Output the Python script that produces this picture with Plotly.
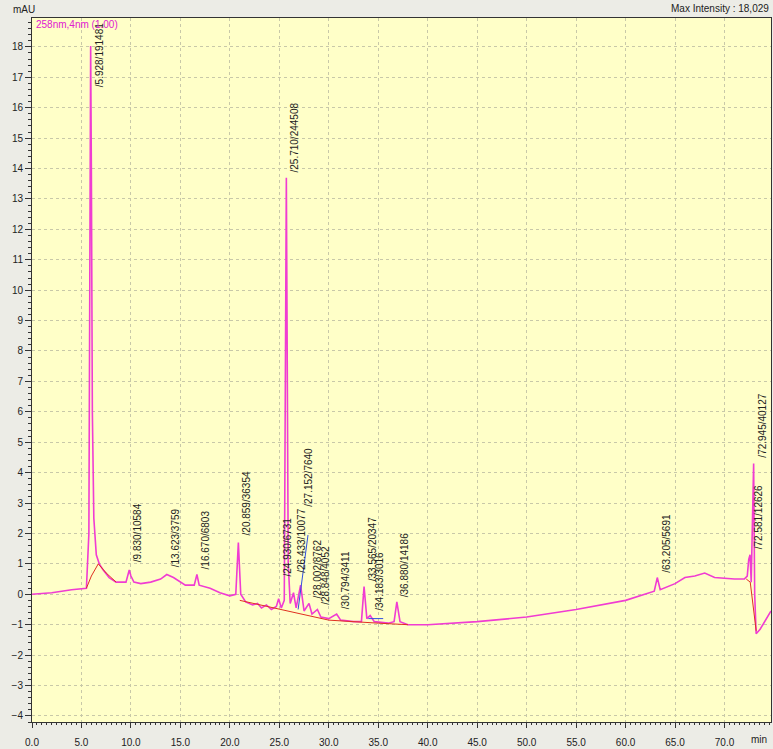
import plotly.graph_objects as go

# ---- chromatogram ----
time_min = [0.0, 2.0, 4.0, 5.5, 5.75, 5.85, 5.928, 6.0, 6.1, 6.25, 6.5, 6.8, 7.2, 7.8, 8.5,
            9.5, 9.7, 9.83, 10.0, 10.3, 11.0, 12.0, 13.0, 13.623, 14.3, 15.5, 16.4, 16.67, 16.9,
            18.0, 19.0, 20.0, 20.6, 20.859, 21.1, 21.6, 22.3, 22.8, 23.2, 23.7, 24.2, 24.7,
            24.93, 25.2, 25.5, 25.71, 25.9, 26.1, 26.433, 26.7, 27.152, 27.5, 28.002, 28.3,
            28.848, 29.2, 30.0, 30.794, 31.2, 32.5, 33.3, 33.565, 33.85, 34.183, 34.6, 36.0,
            36.6, 36.88, 37.2, 38.0, 40.0, 45.0, 50.0, 55.0, 60.0, 62.9, 63.205, 63.5, 65.0,
            66.0, 67.0, 68.0, 69.0, 71.0, 72.0, 72.3, 72.45, 72.581, 72.7, 72.945, 73.05,
            73.2, 73.6, 74.2, 74.7]
absorb_mau = [0.0, 0.05, 0.15, 0.2, 2.0, 12.0, 18.03, 14.0, 6.0, 2.5, 1.3, 1.0, 0.8, 0.55, 0.4,
              0.4, 0.6, 0.8, 0.6, 0.4, 0.35, 0.4, 0.5, 0.65, 0.55, 0.3, 0.3, 0.65, 0.3,
              0.2, 0.05, -0.05, 0.0, 1.7, 0.0, -0.25, -0.35, -0.3, -0.45, -0.35, -0.5, -0.4,
              -0.15, -0.45, -0.2, 13.7, 1.0, -0.3, 0.05, -0.45, 0.3, -0.55, -0.3, -0.65,
              -0.5, -0.75, -0.8, -0.65, -0.85, -0.9, -0.9, 0.25, -0.8, -0.7, -0.9, -0.95,
              -0.9, -0.25, -0.9, -1.0, -1.0, -0.9, -0.75, -0.5, -0.2, 0.1, 0.55, 0.15, 0.35,
              0.55, 0.6, 0.7, 0.55, 0.5, 0.5, 0.6, 1.15, 1.3, 0.4, 4.3, 0.0,
              -1.3, -1.15, -0.8, -0.55]

# drawn baselines (red) and marker segments (blue)
base1_t = [5.5, 6.0, 6.7, 7.5, 8.5]
base1_y = [0.2, 0.6, 1.0, 0.7, 0.4]
base2_t = [21.0, 25.0, 27.0, 30.0, 35.0, 38.0]
base2_y = [-0.2, -0.5, -0.65, -0.85, -0.95, -1.0]
base3_t = [72.2, 72.6, 73.2]
base3_y = [0.5, 0.4, -1.2]
blue1_t = [26.9, 27.9]
blue1_y = [-0.5, 1.95]
blue2_t = [34.0, 35.5]
blue2_y = [-0.8, -0.8]

# ---- peak table ----
peak_rt = [5.928, 9.830, 13.623, 16.670, 20.859, 24.930, 25.710, 26.433, 27.152, 28.002,
           28.848, 30.794, 33.565, 34.183, 36.880, 63.205, 72.581, 72.945]
peak_area = [191481, 10584, 3759, 6803, 36354, 6731, 244508, 10077, 7640, 8762,
             4052, 3411, 20347, 3016, 14186, 5691, 12626, 40127]
peak_height = [18.03, 0.8, 0.65, 0.65, 1.7, -0.15, 13.7, 0.05, 0.3, -0.3,
               -0.5, -0.65, 0.25, -0.7, -0.25, 0.55, 1.3, 4.3]

x_ticks = [0, 5, 10, 15, 20, 25, 30, 35, 40, 45, 50, 55, 60, 65, 70]
y_ticks = [-4, -3, -2, -1, 0, 1, 2, 3, 4, 5, 6, 7, 8, 9, 10, 11, 12, 13, 14, 15, 16, 17, 18]

fig = go.Figure()
fig.add_trace(go.Scatter(x=time_min, y=absorb_mau, mode="lines",
                         line=dict(color="#F03CD2", width=1.6), hoverinfo="skip"))
for bt, by in [(base1_t, base1_y), (base2_t, base2_y), (base3_t, base3_y)]:
    fig.add_trace(go.Scatter(x=bt, y=by, mode="lines",
                             line=dict(color="#E03020", width=1), hoverinfo="skip"))
for bt, by in [(blue1_t, blue1_y), (blue2_t, blue2_y)]:
    fig.add_trace(go.Scatter(x=bt, y=by, mode="lines",
                             line=dict(color="#3050E0", width=1), hoverinfo="skip"))

# label lift (px above apex) to mimic the instrument's layout
lift = [0, 6, 5, 3, 5, 20, 3, 18, 76, 3, 3, 3, 3, 3, 3, 3, 3, 4]
lab_font = dict(size=10, color="#222222", family="Liberation Sans")
anns = []
for i, (rt, ar, h) in enumerate(zip(peak_rt, peak_area, peak_height)):
    txt = "/%.3f/%d" % (rt, ar)
    if i == 0:
        anns.append(dict(x=rt, y=18.85, xref="x", yref="y", text=txt, showarrow=False,
                         textangle=-90, xanchor="left", yanchor="top", xshift=1,
                         font=lab_font))
    else:
        anns.append(dict(x=rt, y=h, xref="x", yref="y", text=txt, showarrow=False,
                         textangle=-90, xanchor="left", yanchor="bottom", xshift=1,
                         yshift=lift[i], font=lab_font))

anns += [
    dict(x=0.0, y=1.0, xref="paper", yref="paper", text="258nm,4nm (1.00)", showarrow=False,
         xanchor="left", yanchor="top", xshift=2, yshift=1,
         font=dict(size=10, color="#E020D0", family="Liberation Sans")),
    dict(x=1.0, y=1.0, xref="paper", yref="paper", text="Max Intensity : 18,029",
         showarrow=False, xanchor="right", yanchor="bottom", yshift=2, font=lab_font),
    dict(x=0.0, y=1.0, xref="paper", yref="paper", text="mAU", showarrow=False,
         xanchor="center", yanchor="bottom", xshift=-8, yshift=1, font=lab_font),
    dict(x=1.0, y=0.0, xref="paper", yref="paper", text="min", showarrow=False,
         xanchor="right", yanchor="top", xshift=-2, yshift=-10, font=lab_font),
]

grid_col = "#C8C8A8"
fig.update_layout(
    width=773, height=749,
    margin=dict(l=32, r=2, t=18, b=27),
    paper_bgcolor="#ECECE6",
    plot_bgcolor="#FFFFC8",
    showlegend=False,
    annotations=anns,
    font=dict(family="Liberation Sans", size=10, color="#222222"),
    xaxis=dict(range=[0, 74.7], tickvals=x_ticks, ticktext=["%.1f" % v for v in x_ticks],
               showgrid=True, gridcolor=grid_col, griddash="dot", gridwidth=1,
               zeroline=False, showline=True, linecolor="#333333", linewidth=1,
               mirror=True, ticks="outside", ticklen=5, tickcolor="#333333",
               ticklabelstandoff=6,
               minor=dict(dtick=0.5, ticks="outside", ticklen=2, tickcolor="#333333",
                          showgrid=False),
               tickfont=dict(size=10)),
    yaxis=dict(range=[-4.2, 18.95], tickvals=y_ticks,
               showgrid=True, gridcolor=grid_col, griddash="dot", gridwidth=1,
               zeroline=False, showline=True, linecolor="#333333", linewidth=1,
               mirror=True, ticks="outside", ticklen=6, tickcolor="#333333",
               minor=dict(dtick=0.2, ticks="outside", ticklen=3, tickcolor="#333333",
                          showgrid=False),
               tickfont=dict(size=10)),
)

fig.write_html("out.html", config={"displayModeBar": False},
               post_script="document.body.style.margin='0';")
